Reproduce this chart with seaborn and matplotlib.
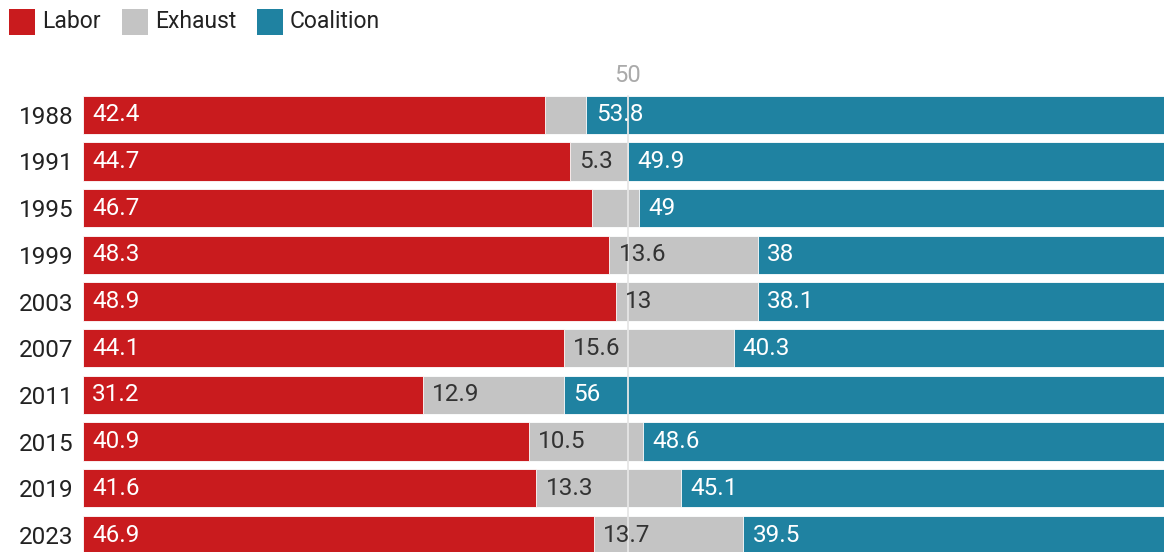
import matplotlib
matplotlib.use("Agg")
import matplotlib.pyplot as plt
import seaborn as sns
import pandas as pd
from matplotlib.patches import Rectangle

years = ["1988", "1991", "1995", "1999", "2003", "2007", "2011", "2015", "2019", "2023"]
labor = [42.4, 44.7, 46.7, 48.3, 48.9, 44.1, 31.2, 40.9, 41.6, 46.9]
exhaust = [3.8, 5.3, 4.3, 13.6, 13.0, 15.6, 12.9, 10.5, 13.3, 13.7]
coalition = [53.8, 49.9, 49.0, 38.0, 38.1, 40.3, 56.0, 48.6, 45.1, 39.5]
series_names = ["Labor", "Exhaust", "Coalition"]

RED = "#C91B1E"
GREY = "#C4C4C4"
TEAL = "#1F82A1"

sns.set_theme(style="white")
plt.rcParams["font.family"] = ["Roboto", "DejaVu Sans"]

df = pd.DataFrame({"year": years, "labor": labor, "exhaust": exhaust, "coalition": coalition})
df["cum_le"] = df["labor"] + df["exhaust"]
df["cum_all"] = df["cum_le"] + df["coalition"]

fig = plt.figure(figsize=(11.64, 5.52), dpi=100)
W, H = 1164, 552
ax = fig.add_axes([83 / W, 0, 1 - 83 / W, (552 - 91) / H])

bw = 0.82
kw = dict(orient="h", order=years, width=bw, edgecolor="white", linewidth=0.6, ax=ax)
sns.barplot(data=df, x="cum_all", y="year", color=TEAL, saturation=1, **kw)
sns.barplot(data=df, x="cum_le", y="year", color=GREY, saturation=1, **kw)
sns.barplot(data=df, x="labor", y="year", color=RED, saturation=1, **kw)

YB, YT = 9.364, -0.51
ax.set_xlim(0, 99.2)
ax.set_ylim(YB, YT)
ax.set_xlabel("")
ax.set_ylabel("")
ax.set_xticks([])
for s in ax.spines.values():
    s.set_visible(False)
ax.tick_params(axis="y", length=0, pad=7, labelsize=17.5, labelcolor="#222222")

fs = 17.5
pad = 0.85
for i in range(len(years)):
    ax.text(pad, i, f"{labor[i]:g}", color="white", va="center", ha="left", fontsize=fs, zorder=6)
    if exhaust[i] >= 5:
        ax.text(labor[i] + pad, i, f"{exhaust[i]:g}", color="#333333",
                va="center", ha="left", fontsize=fs, zorder=6)
    ax.text(labor[i] + exhaust[i] + pad, i, f"{coalition[i]:g}", color="white",
            va="center", ha="left", fontsize=fs, zorder=6)

# 50% reference line
ax.axvline(50, ymin=0, ymax=(YB - (-0.41)) / (YB - YT), color="#E6E6E6", lw=1.3, zorder=5)
ax.text(50, -0.6, "50", color="#AAAAAA", ha="center", va="bottom", fontsize=17, clip_on=False)

# legend
cols = [RED, GREY, TEAL]
lx = [9, 122, 257]
for name, c, x in zip(series_names, cols, lx):
    fig.patches.append(Rectangle((x / W, 1 - 35 / H), 26 / W, 26 / H, transform=fig.transFigure,
                                 facecolor=c, edgecolor="none"))
    fig.text((x + 33) / W, 1 - 21 / H, name, ha="left", va="center", fontsize=16.5, color="#222222")

fig.savefig("out.png", dpi=100)
